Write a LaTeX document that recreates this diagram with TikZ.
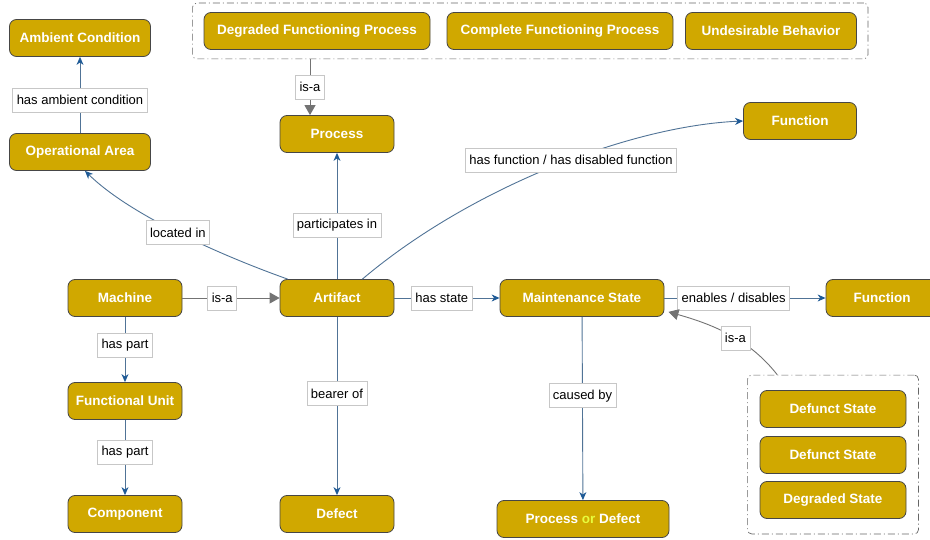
\documentclass[tikz,border=0pt]{standalone}
\usepackage{fontspec}
\setmainfont{Liberation Sans}
\usetikzlibrary{arrows.meta,fit}

\definecolor{conceptgold}{RGB}{208,168,0}
\definecolor{conceptedge}{RGB}{70,70,70}
\definecolor{relblue}{RGB}{30,90,150}
\definecolor{relline}{RGB}{80,115,150}
\definecolor{isagray}{RGB}{115,115,115}
\definecolor{orgreen}{RGB}{232,252,60}

\tikzset{
  concept/.style={draw=conceptedge, line width=0.8pt, fill=conceptgold, rounded corners=7pt,
    text=white, font=\fontsize{13.5}{16}\selectfont\bfseries, minimum height=37pt, inner sep=2pt},
  lbl/.style={draw=black!22, line width=0.6pt, fill=white, font=\fontsize{13}{15}\selectfont,
    inner sep=4pt, minimum height=24pt},
  rel/.style={draw=relline, line width=0.9pt, -{Stealth[length=8pt,width=7pt,inset=2.5pt,color=relblue]}},
  isa/.style={draw=isagray, line width=0.9pt, -{Triangle[length=10pt,width=11pt]}},
  group/.style={draw=black!60, line width=0.7pt, dash pattern=on 7pt off 3pt on 1pt off 3pt,
    rounded corners=4pt}
}

\begin{document}
\begin{tikzpicture}[x=1pt, y=-1pt]
    \useasboundingbox (0,0) rectangle (930,540);

    % Processi (gruppo in alto)
    \node[concept, minimum width=226pt] (degproc) at (317,31) {Degraded Functioning Process};
    \node[concept, minimum width=226pt] (compproc) at (560,31) {Complete Functioning Process};
    \node[concept, minimum width=171pt] (undes) at (771,31) {Undesirable Behavior};
    \node[group, fit=(degproc) (compproc) (undes), inner xsep=11pt, inner ysep=9pt] (topgrp) {};

    % Concetti principali
    \node[concept, minimum width=141pt] (ambient) at (80,38) {Ambient Condition};
    \node[concept, minimum width=141pt] (oparea) at (80,152) {Operational Area};
    \node[concept, minimum width=114pt] (process) at (337,134) {Process};
    \node[concept, minimum width=113pt] (functop) at (800,121) {Function};
    \node[concept, minimum width=114pt] (machine) at (125,298) {Machine};
    \node[concept, minimum width=114pt] (artifact) at (337,298) {Artifact};
    \node[concept, minimum width=164pt] (mstate) at (582,298) {Maintenance State};
    \node[concept, minimum width=112pt] (funcright) at (882,298) {Function};
    \node[concept, minimum width=114pt] (funit) at (125,401) {Functional Unit};
    \node[concept, minimum width=114pt] (component) at (125,514) {Component};
    \node[concept, minimum width=114pt] (defect) at (337,514) {Defect};
    \node[concept, minimum width=172pt] (procdef) at (583,519) {Process \textcolor{orgreen}{or} Defect};

    % Stati (gruppo a destra)
    \node[concept, minimum width=146pt] (defunct1) at (833,409) {Defunct State};
    \node[concept, minimum width=146pt] (defunct2) at (833,455) {Defunct State};
    \node[concept, minimum width=146pt] (degstate) at (833,500) {Degraded State};
    \node[group, fit=(defunct1) (degstate), inner xsep=12pt, inner ysep=15pt] (rgtgrp) {};

    % Relazioni
    \draw[rel] (oparea) -- (ambient) node[lbl, pos=0.43] {has ambient condition};
    \draw[isa] ([xshift=-27pt]process.north |- topgrp.south) -- ([xshift=-27pt]process.north)
        node[lbl, pos=0.5] {is-a};
    \draw[rel] ([xshift=8pt]artifact.north west) .. controls (220,255) and (130,215) ..
        ([xshift=5pt]oparea.south) node[lbl, pos=0.5] {located in};
    \draw[rel] (artifact) -- (process) node[lbl, pos=0.43] {participates in};
    \draw[rel] ([xshift=-32pt]artifact.north east) .. controls (470,188) and (630,126) ..
        (functop.west) node[lbl, pos=0.55] {has function / has disabled function};
    \draw[isa] (machine) -- (artifact) node[lbl, pos=0.41] {is-a};
    \draw[rel] (artifact) -- (mstate) node[lbl, pos=0.45] {has state};
    \draw[rel] (mstate) -- (funcright) node[lbl, pos=0.43] {enables / disables};
    \draw[isa] ([xshift=30pt]rgtgrp.north west) .. controls (750,340) and (715,325) ..
        ([xshift=4pt,yshift=5pt]mstate.south east) node[lbl, pos=0.45] {is-a};
    \draw[rel] (machine) -- (funit) node[lbl, pos=0.43] {has part};
    \draw[rel] (funit) -- (component) node[lbl, pos=0.43] {has part};
    \draw[rel] (artifact) -- (defect) node[lbl, pos=0.43] {bearer of};
    \draw[rel] (mstate) -- (procdef) node[lbl, pos=0.43] {caused by};
\end{tikzpicture}
\end{document}
